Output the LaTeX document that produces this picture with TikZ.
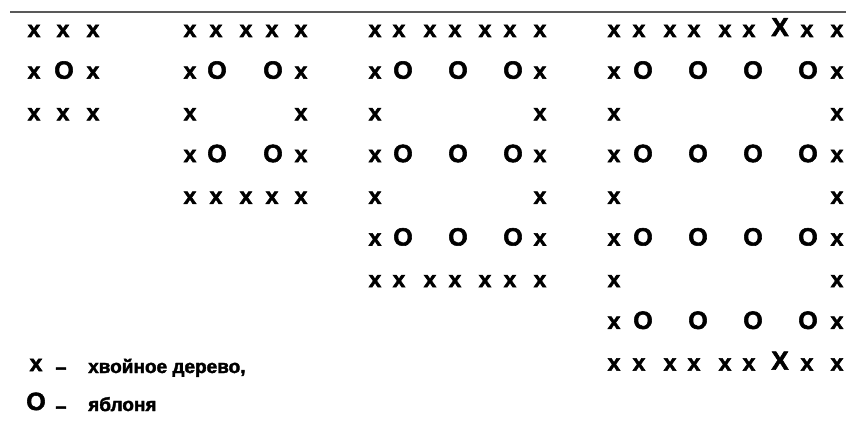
\documentclass[tikz,border=0pt]{standalone}
\usepackage{fontspec}
\setmainfont{Liberation Sans}[BoldFeatures={FakeBold=2.2}]
\newcommand\mkfx{\fontsize{23}{23}\selectfont\bfseries}
\newcommand\mkfO{\fontsize{25}{25}\selectfont\bfseries}
\begin{document}
\begin{tikzpicture}[x=1pt,y=-1pt,
  mk/.style={anchor=base,inner sep=0pt},
  bigx/.style={anchor=base,inner sep=0pt,font=\fontsize{26}{26}\selectfont\bfseries},
  dashmk/.style={anchor=base,inner sep=0pt,font=\fontsize{20}{20}\selectfont\bfseries},
  legtext/.style={anchor=base west,inner sep=0pt,font=\fontsize{19}{19}\selectfont\bfseries}]
\useasboundingbox (0,0) rectangle (846,428);
\fill[white] (0,0) rectangle (846,428);
% top rule
\coordinate (ruleL) at (10,12);
\coordinate (ruleR) at (846,12);
\draw[black!65, line width=1.8pt] (ruleL) -- (ruleR);
% row lists
\def\gAF{34/x,63/x,93/x}
\def\gAO{34/x,64/O,93/x}
\def\gBF{190/x,216/x,246/x,272/x,301/x}
\def\gBO{190/x,217/O,273/O,301/x}
\def\gBS{190/x,301/x}
\def\gCF{375/x,399/x,430/x,455/x,485/x,510/x,540/x}
\def\gCO{375/x,403/O,458/O,513/O,540/x}
\def\gCS{375/x,540/x}
\def\gDF{614/x,639/x,670/x,694/x,725/x,749/x,807/x,837/x}
\def\gDO{614/x,643/O,698/O,753/O,808/O,837/x}
\def\gDS{614/x,837/x}
\newcommand\mkrow[3]{% name, row index, list
  \pgfmathsetmacro\yy{37+41.7*(#2-1)}
  \foreach \xx/\ch [count=\i] in #3 {\node[mk,font=\csname mkf\ch\endcsname] (#1r#2c\i) at (\xx,\yy) {\ch};}}
% group 1
\mkrow{a}{1}{\gAF}
\mkrow{a}{2}{\gAO}
\mkrow{a}{3}{\gAF}
% group 2
\mkrow{b}{1}{\gBF}
\mkrow{b}{2}{\gBO}
\mkrow{b}{3}{\gBS}
\mkrow{b}{4}{\gBO}
\mkrow{b}{5}{\gBF}
% group 3
\mkrow{c}{1}{\gCF}
\mkrow{c}{2}{\gCO}
\mkrow{c}{3}{\gCS}
\mkrow{c}{4}{\gCO}
\mkrow{c}{5}{\gCS}
\mkrow{c}{6}{\gCO}
\mkrow{c}{7}{\gCF}
% group 4
\mkrow{d}{1}{\gDF}
\mkrow{d}{2}{\gDO}
\mkrow{d}{3}{\gDS}
\mkrow{d}{4}{\gDO}
\mkrow{d}{5}{\gDS}
\mkrow{d}{6}{\gDO}
\mkrow{d}{7}{\gDS}
\mkrow{d}{8}{\gDO}
\mkrow{d}{9}{\gDF}
\node[bigx] (dtopX) at (780,36) {X};
\node[bigx] (dbotX) at (780,{36+41.7*8}) {X};
% legend
\node[mk,font=\mkfx] (legx) at (36,371) {x};
\node[dashmk] (legdash1) at (61,374) {–};
\node[legtext] (legt1) at (88,373) {хвойное дерево,};
\node[mk,font=\mkfO] (lego) at (36,410) {O};
\node[dashmk] (legdash2) at (61,413) {–};
\node[legtext] (legt2) at (88,411) {яблоня};
\end{tikzpicture}
\end{document}
